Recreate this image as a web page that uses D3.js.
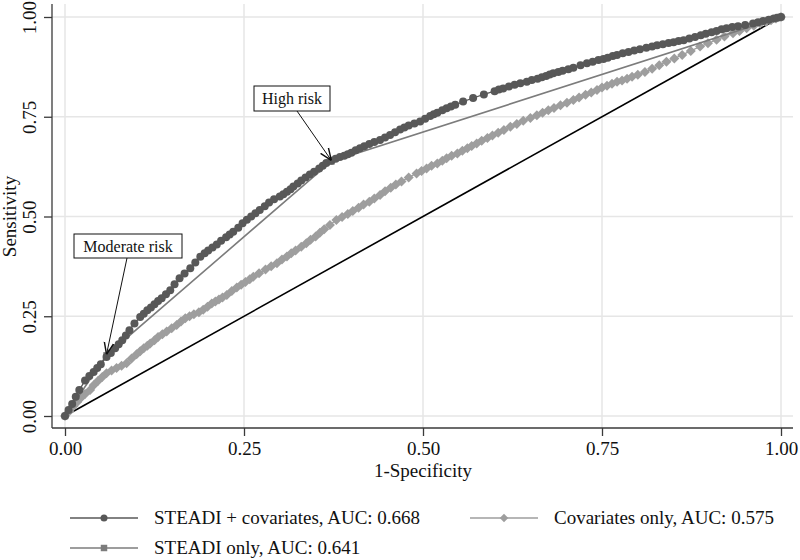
<!DOCTYPE html>
<html>
<head>
<meta charset="utf-8">
<script src="https://cdn.jsdelivr.net/npm/d3@7"></script>
<style>
  html, body { margin: 0; padding: 0; background: #fff; }
  svg { display: block; font-family: "Liberation Serif", "Times New Roman", serif; }
</style>
</head>
<body>
<svg id="chart" width="800" height="560"></svg>
<script>
// ---- Data ----
const tickValues = [0, 0.25, 0.5, 0.75, 1];
const tickLabels = ["0.00", "0.25", "0.50", "0.75", "1.00"];

// STEADI + covariates (AUC 0.668)
const steadiCovX = [0,0.005,0.01,0.015,0.02,0.028,0.034,0.04,0.045,0.05,0.058,0.064,0.07,0.075,0.08,0.085,0.09,0.097,0.105,0.11,0.115,0.12,0.125,0.13,0.135,0.141,0.147,0.153,0.16,0.167,0.175,0.182,0.189,0.195,0.2,0.206,0.212,0.218,0.225,0.23,0.235,0.242,0.248,0.254,0.26,0.266,0.272,0.279,0.285,0.292,0.3,0.305,0.31,0.315,0.319,0.325,0.33,0.336,0.342,0.348,0.355,0.36,0.365,0.372,0.378,0.384,0.39,0.395,0.4,0.406,0.412,0.418,0.425,0.432,0.44,0.447,0.454,0.461,0.468,0.474,0.48,0.488,0.496,0.503,0.51,0.515,0.52,0.527,0.533,0.539,0.545,0.556,0.57,0.585,0.6,0.606,0.612,0.62,0.628,0.636,0.645,0.652,0.66,0.666,0.672,0.677,0.682,0.689,0.695,0.703,0.71,0.72,0.729,0.737,0.745,0.752,0.758,0.765,0.771,0.779,0.787,0.795,0.803,0.812,0.82,0.827,0.835,0.843,0.85,0.857,0.864,0.872,0.88,0.888,0.895,0.903,0.91,0.917,0.924,0.932,0.94,0.95,0.961,0.968,0.975,0.983,0.99,0.995,1];
const steadiCovY = [0,0.015,0.03,0.048,0.065,0.089,0.1,0.11,0.12,0.13,0.148,0.158,0.17,0.18,0.19,0.202,0.215,0.232,0.248,0.256,0.265,0.272,0.28,0.288,0.295,0.305,0.315,0.33,0.345,0.357,0.37,0.385,0.399,0.408,0.415,0.422,0.43,0.439,0.448,0.455,0.462,0.472,0.483,0.492,0.5,0.508,0.516,0.526,0.535,0.543,0.55,0.556,0.562,0.568,0.575,0.583,0.59,0.598,0.605,0.612,0.62,0.627,0.634,0.64,0.645,0.649,0.652,0.656,0.66,0.666,0.671,0.676,0.682,0.687,0.692,0.698,0.704,0.711,0.718,0.723,0.728,0.733,0.738,0.745,0.752,0.756,0.76,0.766,0.771,0.776,0.78,0.788,0.797,0.806,0.814,0.818,0.821,0.826,0.83,0.834,0.838,0.842,0.845,0.849,0.852,0.856,0.859,0.862,0.865,0.869,0.873,0.879,0.884,0.888,0.892,0.895,0.898,0.902,0.905,0.909,0.912,0.916,0.919,0.923,0.926,0.929,0.932,0.935,0.937,0.94,0.942,0.946,0.95,0.954,0.958,0.962,0.965,0.969,0.972,0.975,0.977,0.98,0.984,0.987,0.99,0.993,0.996,0.998,1];

// Covariates only (AUC 0.575)
const covX = [0,0.006,0.012,0.017,0.022,0.028,0.035,0.04,0.046,0.052,0.058,0.065,0.072,0.079,0.086,0.093,0.1,0.105,0.11,0.115,0.119,0.125,0.13,0.136,0.142,0.149,0.156,0.162,0.168,0.174,0.18,0.187,0.193,0.199,0.205,0.21,0.215,0.22,0.226,0.233,0.24,0.246,0.252,0.258,0.263,0.271,0.28,0.288,0.296,0.303,0.31,0.316,0.322,0.33,0.337,0.343,0.35,0.356,0.362,0.37,0.379,0.387,0.395,0.402,0.41,0.417,0.425,0.432,0.44,0.447,0.455,0.462,0.47,0.48,0.491,0.498,0.505,0.512,0.52,0.527,0.533,0.54,0.548,0.555,0.562,0.568,0.575,0.582,0.59,0.597,0.605,0.613,0.622,0.631,0.64,0.65,0.659,0.667,0.675,0.683,0.692,0.701,0.71,0.718,0.727,0.735,0.743,0.75,0.757,0.764,0.771,0.778,0.785,0.792,0.8,0.81,0.82,0.83,0.84,0.851,0.862,0.874,0.887,0.898,0.91,0.921,0.933,0.942,0.952,0.962,0.971,0.979,0.986,0.993,1];
const covY = [0,0.012,0.025,0.035,0.045,0.055,0.065,0.077,0.088,0.098,0.107,0.114,0.12,0.126,0.132,0.144,0.155,0.162,0.17,0.176,0.182,0.19,0.198,0.205,0.212,0.22,0.228,0.237,0.245,0.25,0.255,0.26,0.266,0.274,0.282,0.287,0.292,0.297,0.303,0.313,0.322,0.329,0.336,0.343,0.349,0.358,0.367,0.375,0.383,0.392,0.4,0.408,0.415,0.424,0.433,0.442,0.45,0.459,0.468,0.479,0.491,0.499,0.506,0.514,0.522,0.53,0.537,0.545,0.554,0.563,0.572,0.58,0.588,0.598,0.608,0.614,0.62,0.627,0.633,0.64,0.646,0.652,0.658,0.665,0.671,0.677,0.683,0.69,0.697,0.703,0.71,0.717,0.725,0.732,0.74,0.747,0.754,0.76,0.766,0.772,0.779,0.785,0.792,0.798,0.805,0.811,0.817,0.823,0.828,0.833,0.838,0.841,0.845,0.85,0.855,0.862,0.87,0.879,0.888,0.896,0.905,0.915,0.926,0.934,0.943,0.951,0.959,0.965,0.972,0.978,0.984,0.988,0.992,0.996,1];

// STEADI only (AUC 0.641)
const steadiX = [0, 0.058, 0.372, 1];
const steadiY = [0, 0.152, 0.638, 1];

// Reference line
const refX = [0, 1];
const refY = [0, 1];

const legendLabels = ["STEADI + covariates, AUC: 0.668", "Covariates only, AUC: 0.575", "STEADI only, AUC: 0.641"];
const annotations = [
  { text: "High risk", idx: 2 },
  { text: "Moderate risk", idx: 1 }
];

// ---- Layout ----
const svg = d3.select("#chart");
const plot = { left: 52, right: 793, top: 4, bottom: 428 };
const x = d3.scaleLinear().domain([0, 1]).range([65, 781]);
const y = d3.scaleLinear().domain([0, 1]).range([416, 17]);

const cDark = "#585858", cLight = "#9e9e9e", cMid = "#7c7c7c";
const fontSize = 19;

// grid
const g = svg.append("g");
g.selectAll("line.vg").data(tickValues).join("line")
  .attr("x1", d => x(d)).attr("x2", d => x(d))
  .attr("y1", plot.top).attr("y2", plot.bottom)
  .attr("stroke", "#e6e6e6").attr("stroke-width", 1.5);
g.selectAll("line.hg").data(tickValues).join("line")
  .attr("class", "hg")
  .attr("x1", plot.left).attr("x2", plot.right)
  .attr("y1", d => y(d)).attr("y2", d => y(d))
  .attr("stroke", "#e6e6e6").attr("stroke-width", 1.5);

// axes
const xAxis = d3.axisBottom(x).tickValues(tickValues).tickFormat((d, i) => tickLabels[i]).tickSize(8).tickPadding(6);
const yAxis = d3.axisLeft(y).tickValues(tickValues).tickFormat((d, i) => tickLabels[i]).tickSize(8).tickPadding(4);

const gx = svg.append("g").attr("transform", `translate(0,${plot.bottom})`).call(xAxis);
gx.select(".domain").attr("d", `M${plot.left},0H${plot.right}`);
const gy = svg.append("g").attr("transform", `translate(${plot.left},0)`).call(yAxis);
gy.select(".domain").attr("d", `M0,${plot.top}V${plot.bottom}`);

[gx, gy].forEach(a => {
  a.select(".domain").attr("stroke", "#3a3a3a").attr("stroke-width", 1.3);
  a.selectAll(".tick line").attr("stroke", "#3a3a3a").attr("stroke-width", 1.3);
  a.selectAll("text").attr("font-family", "Liberation Serif").attr("font-size", fontSize).attr("fill", "#111");
});
gy.selectAll(".tick text")
  .attr("x", null).attr("dy", null)
  .attr("transform", "translate(-16,0) rotate(-90)")
  .attr("text-anchor", "middle");

// axis titles
svg.append("text").attr("x", x(0.5)).attr("y", 477).attr("text-anchor", "middle")
  .attr("font-size", fontSize).attr("fill", "#111").text("1-Specificity");
svg.append("text").attr("transform", `translate(16,${y(0.5)}) rotate(-90)`)
  .attr("text-anchor", "middle").attr("font-size", fontSize).attr("fill", "#111").text("Sensitivity");

// series
const lineGen = d3.line().x(d => x(d[0])).y(d => y(d[1]));
const zip = (a, b) => a.map((v, i) => [v, b[i]]);

const covData = zip(covX, covY);
const steadiCovData = zip(steadiCovX, steadiCovY);
const steadiData = zip(steadiX, steadiY);

// reference diagonal
svg.append("path").datum(zip(refX, refY)).attr("d", lineGen)
  .attr("fill", "none").attr("stroke", "#000").attr("stroke-width", 1.6);

// covariates only (diamonds = squares rotated 45deg)
svg.append("path").datum(covData).attr("d", lineGen)
  .attr("fill", "none").attr("stroke", cLight).attr("stroke-width", 1.3);
const diamond = d3.symbol().type(d3.symbolSquare).size(50);
svg.append("g").selectAll("path").data(covData).join("path")
  .attr("d", diamond).attr("transform", d => `translate(${x(d[0])},${y(d[1])}) rotate(45)`)
  .attr("fill", cLight);

// STEADI only
svg.append("path").datum(steadiData).attr("d", lineGen)
  .attr("fill", "none").attr("stroke", cMid).attr("stroke-width", 1.6);
const square = d3.symbol().type(d3.symbolSquare).size(42);
svg.append("g").selectAll("path").data(steadiData).join("path")
  .attr("d", square).attr("transform", d => `translate(${x(d[0])},${y(d[1])})`)
  .attr("fill", cMid);

// STEADI + covariates
svg.append("path").datum(steadiCovData).attr("d", lineGen)
  .attr("fill", "none").attr("stroke", cDark).attr("stroke-width", 1.3);
svg.append("g").selectAll("circle").data(steadiCovData).join("circle")
  .attr("cx", d => x(d[0])).attr("cy", d => y(d[1])).attr("r", 4)
  .attr("fill", cDark);

// annotations
const boxes = [
  { x: 254, y: 86, w: 76, h: 25, ax: 297, ay: 111 },
  { x: 74, y: 234, w: 108, h: 24, ax: 127, ay: 258 }
];
const defs = svg.append("defs");
defs.append("marker").attr("id", "arr").attr("viewBox", "0 0 10 10")
  .attr("refX", 10).attr("refY", 5).attr("markerWidth", 12).attr("markerHeight", 12)
  .attr("markerUnits", "userSpaceOnUse").attr("orient", "auto")
  .append("path").attr("d", "M0,1 L10,5 L0,9").attr("fill", "none").attr("stroke", "#111").attr("stroke-width", 1.2);

annotations.forEach((a, i) => {
  const b = boxes[i];
  const tx = x(steadiX[a.idx]), ty = y(steadiY[a.idx]);
  svg.append("line").attr("x1", b.ax).attr("y1", b.ay).attr("x2", tx).attr("y2", ty - 1)
    .attr("stroke", "#111").attr("stroke-width", 1).attr("marker-end", "url(#arr)");
  svg.append("rect").attr("x", b.x).attr("y", b.y).attr("width", b.w).attr("height", b.h)
    .attr("fill", "#fff").attr("stroke", "#111").attr("stroke-width", 1);
  svg.append("text").attr("x", b.x + b.w / 2).attr("y", b.y + b.h / 2 + 5.5)
    .attr("text-anchor", "middle").attr("font-size", 16).attr("fill", "#111").text(a.text);
});

// legend
const legendItems = [
  { label: legendLabels[0], color: cDark, sym: "circle", lx: 70, ly: 518 },
  { label: legendLabels[1], color: cLight, sym: "diamond", lx: 470, ly: 518 },
  { label: legendLabels[2], color: cMid, sym: "square", lx: 70, ly: 548 }
];
const lg = svg.append("g");
legendItems.forEach(it => {
  lg.append("line").attr("x1", it.lx).attr("x2", it.lx + 68).attr("y1", it.ly).attr("y2", it.ly)
    .attr("stroke", it.color).attr("stroke-width", 1.6);
  const cx = it.lx + 34;
  if (it.sym === "circle") {
    lg.append("circle").attr("cx", cx).attr("cy", it.ly).attr("r", 3.5).attr("fill", it.color);
  } else if (it.sym === "diamond") {
    lg.append("path").attr("d", d3.symbol().type(d3.symbolSquare).size(36)).attr("transform", `translate(${cx},${it.ly}) rotate(45)`).attr("fill", it.color);
  } else {
    lg.append("path").attr("d", square).attr("transform", `translate(${cx},${it.ly})`).attr("fill", it.color);
  }
  lg.append("text").attr("x", it.lx + 84).attr("y", it.ly + 6).attr("font-size", fontSize)
    .attr("fill", "#111").text(it.label);
});
</script>
</body>
</html>
